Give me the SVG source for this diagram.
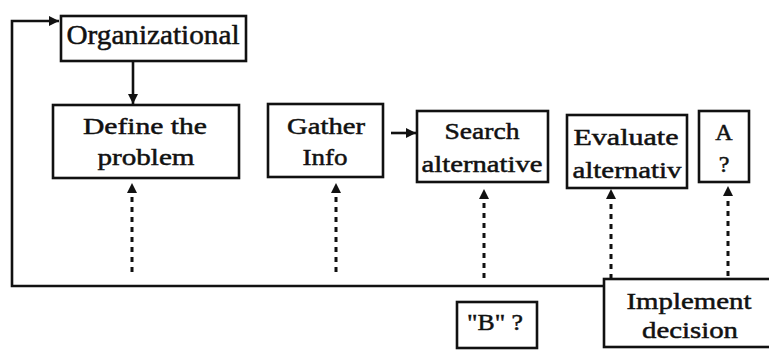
<svg xmlns="http://www.w3.org/2000/svg" width="769" height="352" viewBox="0 0 769 352">
<style>
.box{fill:#fff;stroke:#111;stroke-width:2.6}
.t{font-family:"Liberation Serif","Times New Roman",serif;font-size:24px;fill:#111;stroke:#111;stroke-width:0.5;text-anchor:middle}
.ln{fill:none;stroke:#111;stroke-width:2.6}
.dot{fill:none;stroke:#111;stroke-width:3;stroke-dasharray:5 5}
</style>
<defs>
<marker id="ah" markerUnits="userSpaceOnUse" markerWidth="12" markerHeight="12" refX="10" refY="5" orient="auto">
<path d="M0,0 L10,5 L0,10 z" fill="#111"/>
</marker>
</defs>
<rect width="769" height="352" fill="#fff"/>
<g id="connectors">
<polyline class="ln" points="604,286 12,286 12,21 59,21" marker-end="url(#ah)"/>
<line class="ln" x1="133" y1="61" x2="133" y2="104" marker-end="url(#ah)"/>
<line class="ln" x1="391" y1="133" x2="416" y2="133" marker-end="url(#ah)"/>
<line class="dot" x1="132" y1="272" x2="132" y2="183" marker-end="url(#ah)"/>
<line class="dot" x1="336" y1="272" x2="336" y2="183" marker-end="url(#ah)"/>
<line class="dot" x1="484" y1="278" x2="484" y2="189" marker-end="url(#ah)"/>
<line class="dot" x1="611" y1="279" x2="611" y2="189" marker-end="url(#ah)"/>
<line class="dot" x1="728" y1="276" x2="728" y2="186" marker-end="url(#ah)"/>
</g>
<g id="organizational">
<rect class="box" x="61" y="16" width="185" height="45"/>
<text class="t" x="153" y="44" style="font-size:28px" textLength="173" lengthAdjust="spacingAndGlyphs">Organizational</text>
</g>
<g id="define">
<rect class="box" x="53" y="105" width="186" height="73"/>
<text class="t" x="145" y="134" textLength="124" lengthAdjust="spacingAndGlyphs">Define the</text>
<text class="t" x="146" y="165" textLength="97" lengthAdjust="spacingAndGlyphs">problem</text>
</g>
<g id="gather">
<rect class="box" x="268" y="104" width="115" height="73"/>
<text class="t" x="326" y="134" textLength="78" lengthAdjust="spacingAndGlyphs">Gather</text>
<text class="t" x="325" y="165" textLength="45" lengthAdjust="spacingAndGlyphs">Info</text>
</g>
<g id="search">
<rect class="box" x="417" y="111" width="131" height="71"/>
<text class="t" x="482" y="139" textLength="75" lengthAdjust="spacingAndGlyphs">Search</text>
<text class="t" x="482" y="172" textLength="121" lengthAdjust="spacingAndGlyphs">alternative</text>
</g>
<g id="evaluate">
<rect class="box" x="567" y="115" width="120" height="73"/>
<text class="t" x="626" y="145" textLength="105" lengthAdjust="spacingAndGlyphs">Evaluate</text>
<text class="t" x="627" y="178" textLength="109" lengthAdjust="spacingAndGlyphs">alternativ</text>
</g>
<g id="a">
<rect class="box" x="699" y="111" width="50" height="71"/>
<text class="t" x="724" y="140">A</text>
<text class="t" x="724" y="172">?</text>
</g>
<g id="implement">
<rect class="box" x="604" y="279" width="175" height="68"/>
<text class="t" x="689" y="309" textLength="125" lengthAdjust="spacingAndGlyphs">Implement</text>
<text class="t" x="690" y="338" textLength="96" lengthAdjust="spacingAndGlyphs">decision</text>
</g>
<g id="b">
<rect class="box" x="457" y="302" width="80" height="46"/>
<text class="t" x="495" y="330" textLength="56" lengthAdjust="spacingAndGlyphs">"B" ?</text>
</g>
</svg>
